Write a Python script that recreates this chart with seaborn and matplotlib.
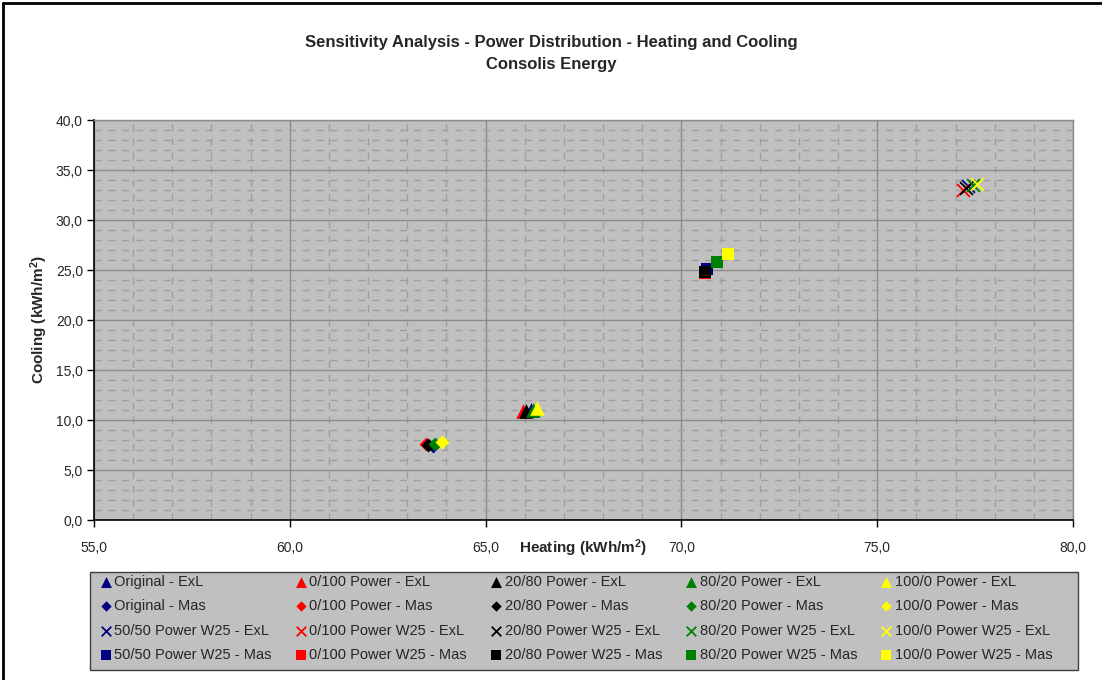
import pandas as pd
import matplotlib
matplotlib.use("Agg")
import matplotlib.pyplot as plt
from matplotlib.ticker import MultipleLocator, FuncFormatter
from matplotlib.lines import Line2D
from matplotlib.patches import Rectangle
import seaborn as sbn

# series (drawing order: ExL, Mas, W25 ExL, W25 Mas; colours inside each group)
series = [
    "Original - ExL", "0/100 Power - ExL", "20/80 Power - ExL", "80/20 Power - ExL", "100/0 Power - ExL",
    "Original - Mas", "0/100 Power - Mas", "20/80 Power - Mas", "80/20 Power - Mas", "100/0 Power - Mas",
    "50/50 Power W25 - ExL", "0/100 Power W25 - ExL", "20/80 Power W25 - ExL", "80/20 Power W25 - ExL", "100/0 Power W25 - ExL",
    "50/50 Power W25 - Mas", "0/100 Power W25 - Mas", "20/80 Power W25 - Mas", "80/20 Power W25 - Mas", "100/0 Power W25 - Mas",
]
heating = [
    66.15, 65.95, 66.02, 66.22, 66.32,
    63.66, 63.48, 63.54, 63.72, 63.88,
    77.33, 77.20, 77.27, 77.45, 77.56,
    70.66, 70.60, 70.60, 70.90, 71.18,
]
cooling = [
    11.0, 10.9, 10.9, 11.0, 11.2,
    7.40, 7.60, 7.55, 7.65, 7.85,
    33.45, 33.05, 33.25, 33.50, 33.65,
    25.15, 24.70, 24.85, 25.80, 26.60,
]
colores = ["#000080", "#FF0000", "#000000", "#008000", "#FFFF00"] * 4
marcadores = ["^"] * 5 + ["D"] * 5 + ["x"] * 5 + ["s"] * 5
tamanos = [110] * 5 + [50] * 5 + [85] * 5 + [85] * 5

df = pd.DataFrame({"serie": series, "heating": heating, "cooling": cooling})

sbn.set_style("white")
plt.rcParams["font.family"] = ["Liberation Sans", "DejaVu Sans"]
plt.rcParams["mathtext.fontset"] = "custom"
plt.rcParams["mathtext.bf"] = "Liberation Sans:bold"
plt.rcParams["mathtext.rm"] = "Liberation Sans"

fig = plt.figure(figsize = (11.02, 6.80), dpi = 100)
ax = fig.add_axes([94 / 1102, 1 - 520 / 680, (1073 - 94) / 1102, 400 / 680])
ax.set_facecolor("#C0C0C0")

for i, fila in df.iterrows():
    if marcadores[i] == "x":
        sbn.scatterplot(x = [fila["heating"]], y = [fila["cooling"]], ax = ax, marker = "x",
                        color = colores[i], s = tamanos[i], linewidth = 1.3, label = fila["serie"], zorder = 3)
    else:
        sbn.scatterplot(x = [fila["heating"]], y = [fila["cooling"]], ax = ax, marker = marcadores[i],
                        color = colores[i], s = tamanos[i], linewidth = 0, label = fila["serie"], zorder = 3)

ax.set_xlim(55, 80)
ax.set_ylim(0, 40)
ax.xaxis.set_major_locator(MultipleLocator(5))
ax.yaxis.set_major_locator(MultipleLocator(5))
ax.xaxis.set_minor_locator(MultipleLocator(1))
ax.yaxis.set_minor_locator(MultipleLocator(1))
formato = FuncFormatter(lambda v, p: f"{v:.1f}".replace(".", ","))
ax.xaxis.set_major_formatter(formato)
ax.yaxis.set_major_formatter(formato)
ax.tick_params(which = "major", direction = "out", length = 5, width = 1, color = "black",
               labelsize = 10, pad = 3, bottom = True, left = True)
ax.tick_params(which = "minor", length = 0)
ax.tick_params(axis = "x", pad = 10)

ax.grid(which = "major", color = "#8C8C8C", linewidth = 1, linestyle = "-", zorder = 0)
ax.grid(which = "minor", color = "#9E9E9E", linewidth = 1, linestyle = (0, (5, 5)), zorder = 0)
ax.set_axisbelow(True)

for lado in ["left", "bottom"]:
    ax.spines[lado].set_color("black")
    ax.spines[lado].set_linewidth(1.2)
for lado in ["top", "right"]:
    ax.spines[lado].set_color("#8C8C8C")
    ax.spines[lado].set_linewidth(1)

ax.set_xlabel(r"Heating (kWh/m$\mathbf{^2}$)", fontsize = 11, fontweight = "bold")
ax.set_ylabel(r"Cooling (kWh/m$\mathbf{^2}$)", fontsize = 11, fontweight = "bold")
ax.xaxis.set_label_coords(0.5, -0.043)
ax.yaxis.set_label_coords(-0.045, 0.5)

fig.text(0.5, 1 - 35 / 680, "Sensitivity Analysis - Power Distribution - Heating and Cooling\nConsolis Energy",
         ha = "center", va = "top", fontsize = 12, fontweight = "bold", linespacing = 1.6)

# legend: column-major order so rows read ExL / Mas / W25 ExL / W25 Mas
handles, labels = ax.get_legend_handles_labels()
if ax.get_legend():
    ax.get_legend().remove()
orden = [r * 5 + c for c in range(5) for r in range(4)]

fig.add_artist(Rectangle((90 / 1102, 10 / 680), 988 / 1102, 98 / 680, transform = fig.transFigure,
                         facecolor = "#C0C0C0", edgecolor = "#404040", linewidth = 1))
leg = fig.legend([handles[k] for k in orden], [labels[k] for k in orden],
                 loc = "lower left", bbox_to_anchor = (91 / 1102, 9 / 680, 970 / 1102, 98 / 680),
                 mode = "expand", ncol = 5, fontsize = 10.5, frameon = False,
                 handlelength = 0.8, handletextpad = 0.2, labelspacing = 0.72, borderpad = 0.6,
                 markerscale = 0.75, borderaxespad = 0)

# chart border like the original export (top and left visible)
fig.add_artist(Line2D([3 / 1102, 1], [1 - 3 / 680, 1 - 3 / 680], color = "black", linewidth = 2, transform = fig.transFigure))
fig.add_artist(Line2D([3 / 1102, 3 / 1102], [0, 1 - 3 / 680], color = "black", linewidth = 2, transform = fig.transFigure))

fig.savefig("out.png", dpi = 100)
plt.close()
